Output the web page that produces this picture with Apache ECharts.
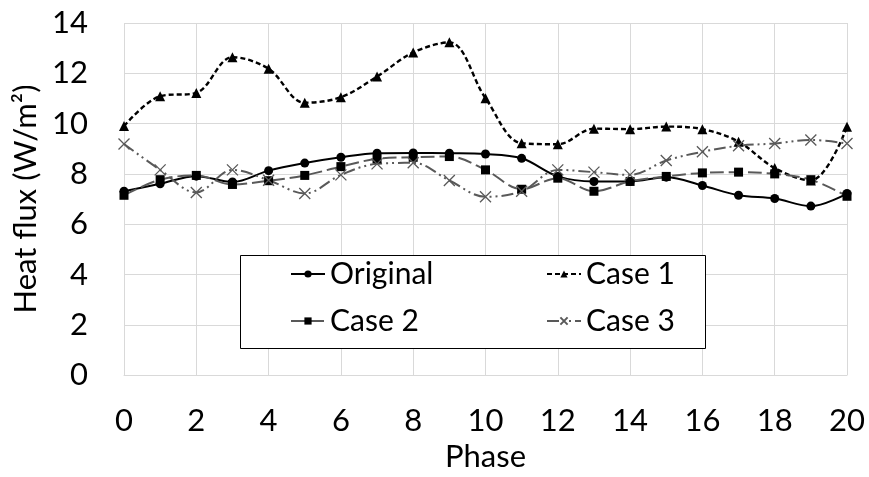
<!DOCTYPE html>
<html>
<head>
<meta charset="utf-8">
<script src="https://cdn.jsdelivr.net/npm/echarts@6/dist/echarts.min.js"></script>
<style>html,body{margin:0;padding:0;background:#fff;}#c{width:869px;height:477px;}</style>
</head>
<body>
<div id="c"></div>
<script>
const phase = [0,1,2,3,4,5,6,7,8,9,10,11,12,13,14,15,16,17,18,19,20];
const original = [7.31,7.61,7.91,7.68,8.13,8.43,8.66,8.82,8.83,8.82,8.79,8.62,7.90,7.70,7.70,7.87,7.54,7.15,7.02,6.72,7.22];
const case1 = [9.90,11.09,11.22,12.64,12.18,10.83,11.05,11.87,12.83,13.23,11.01,9.22,9.18,9.80,9.78,9.88,9.78,9.28,8.23,7.74,9.87];
const case2 = [7.15,7.77,7.94,7.58,7.73,7.94,8.29,8.60,8.66,8.69,8.16,7.39,7.83,7.31,7.70,7.90,8.04,8.07,8.00,7.77,7.11];
const case3 = [9.19,8.16,7.26,8.16,7.75,7.22,7.96,8.40,8.44,7.74,7.09,7.31,8.16,8.07,7.96,8.53,8.88,9.12,9.21,9.35,9.21];
const seriesNames = ['Original','Case 1','Case 2','Case 3'];
const xTicks = {min:0,max:20,interval:2};
const yTicks = {min:0,max:14,interval:2};

const pairs = v => phase.map((p,i)=>[p,v[i]]);
const FONT = 'Lato';
const X_PATH = 'path://M0,0L10,10M10,0L0,10';

const chart = echarts.init(document.getElementById('c'), null, {renderer:'canvas'});
const legendText = {fontFamily:FONT,fontSize:30,color:'#000'};
const mkLegend = (name,left,top)=>({
  data:[name], left:left, top:top, padding:0, itemWidth:34, itemHeight:9,
  textStyle:legendText, selectedMode:false, z:10
});
chart.setOption({
  animation:false,
  backgroundColor:'#fff',
  grid:{left:124,right:22,top:23,bottom:98,containLabel:false},
  xAxis:{
    type:'value', min:xTicks.min, max:xTicks.max, interval:xTicks.interval,
    name:'Phase', nameLocation:'middle', nameGap:62,
    nameTextStyle:{fontFamily:FONT,fontSize:31,color:'#000'},
    axisLine:{show:true,lineStyle:{color:'#d9d9d9',width:1}},
    axisTick:{show:false},
    axisLabel:{fontFamily:FONT,fontSize:31,color:'#000',margin:30},
    splitLine:{show:true,lineStyle:{color:'#d9d9d9',width:1}}
  },
  yAxis:{
    type:'value', min:yTicks.min, max:yTicks.max, interval:yTicks.interval,
    name:'Heat flux (W/m²)', nameLocation:'middle', nameGap:78,
    nameTextStyle:{fontFamily:FONT,fontSize:31,color:'#000'},
    axisLine:{show:false}, axisTick:{show:false},
    axisLabel:{fontFamily:FONT,fontSize:31,color:'#000',margin:36},
    splitLine:{show:true,lineStyle:{color:'#d9d9d9',width:1}}
  },
  legend:[
    mkLegend(seriesNames[0],290,259),
    mkLegend(seriesNames[1],546,259),
    mkLegend(seriesNames[2],290,306),
    mkLegend(seriesNames[3],546,306)
  ],
  graphic:[{
    type:'rect', z:5,
    shape:{x:240.5,y:255.5,width:465,height:93},
    style:{fill:'#fff',stroke:'#000',lineWidth:1}
  }],
  series:[
    {name:seriesNames[0],type:'line',data:pairs(original),smooth:0.35,
     symbol:'circle',symbolSize:9,
     lineStyle:{color:'#000',width:2,type:'solid'},
     itemStyle:{color:'#000'}},
    {name:seriesNames[1],type:'line',data:pairs(case1),smooth:0.35,
     symbol:'triangle',symbolSize:10,
     lineStyle:{color:'#000',width:2.4,type:[5,3]},
     itemStyle:{color:'#000'}},
    {name:seriesNames[2],type:'line',data:pairs(case2),smooth:0.35,
     symbol:'rect',symbolSize:9,
     lineStyle:{color:'#595959',width:2,type:[14,5]},
     itemStyle:{color:'#000'}},
    {name:seriesNames[3],type:'line',data:pairs(case3),smooth:0.35,
     symbol:X_PATH,symbolSize:11,
     lineStyle:{color:'#595959',width:2,type:[12,4,2,4,2,4]},
     itemStyle:{color:'none',borderColor:'#595959',borderWidth:1.3}}
  ]
});
</script>
</body>
</html>
